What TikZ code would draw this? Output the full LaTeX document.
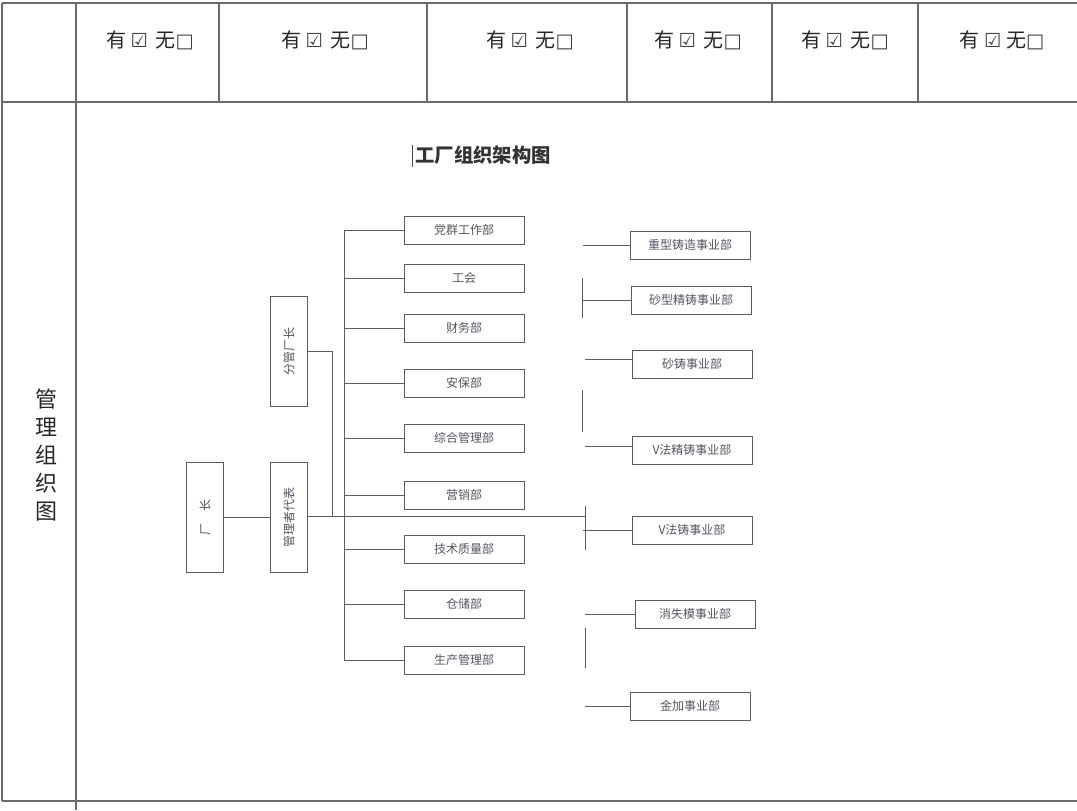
\documentclass[tikz,border=0pt]{standalone}
\usepackage{fontspec}
\setmainfont{Noto Sans CJK SC}
\newfontfamily\cjk{Noto Sans CJK SC}
\newfontfamily\sym{DejaVu Sans}
\definecolor{tline}{HTML}{6A6A72}
\definecolor{bline}{HTML}{5C5C66}
\definecolor{btext}{HTML}{555560}
\tikzset{
  grid/.style={draw=tline, line width=0.8pt},
  conn/.style={draw=bline, line width=0.6pt},
  hdr/.style={font=\cjk\fontsize{15}{18}\selectfont, text=black!85},
  mbox/.style={draw=bline, line width=0.6pt, minimum width=90pt, minimum height=21pt, inner sep=0pt, font=\cjk\fontsize{9}{10}\selectfont, text=btext},
  vbox/.style={draw=bline, line width=0.6pt, minimum width=27.5pt, minimum height=82.5pt, inner sep=0pt, font=\cjk\fontsize{9}{10}\selectfont, text=btext},
}
\newcommand{\symbox}[1]{{\sym\fontsize{14.5}{16}\selectfont\color{black!75}#1}}
\newcommand{\chk}{有 \symbox{☑}\, 无\symbox{□}}
\begin{document}
\begin{tikzpicture}[x=0.75pt,y=-0.75pt]
\useasboundingbox (0,0) rectangle (1077,810);
% table
\draw[grid] (2,3) -- (1077,3);
\draw[grid] (2,102) -- (1077,102);
\draw[grid] (2,801) -- (1077,801);
\draw[grid] (2,3) -- (2,801);
\draw[grid] (76,3) -- (76,810);
\foreach \x in {219,427,627,772,918} \draw[grid] (\x,3) -- (\x,102);
% header cells
\node[hdr] (h1) at (150,40) {\chk};
\node[hdr] (h2) at (325,40) {\chk};
\node[hdr] (h3) at (530,40) {\chk};
\node[hdr] (h4) at (698,40) {\chk};
\node[hdr] (h5) at (845,40) {\chk};
\node[hdr] (h6) at (1002,40) {有 \symbox{☑} 无\symbox{□}};
% left label
\node[font=\cjk\fontsize{16.5}{21}\selectfont, text=black!85, align=center] (lbl) at (46,455) {管\\理\\组\\织\\图};
% title
\node[font=\cjk\bfseries\fontsize{14.5}{17}\selectfont, text=black!80, anchor=west, inner sep=1pt] (title) at (414,155) {工厂组织架构图};
\draw[draw=black!70, line width=0.6pt] (title.north west) ++(-2,1) coordinate (cur1) -- (cur1 |- 0,167) coordinate (cur2);
% left boxes
\node[vbox] (cz) at (205,517) {\rotatebox{90}{厂\quad 长}};
\node[vbox] (gl) at (289,517) {\rotatebox{90}{管理者代表}};
\node[vbox] (fg) at (289,351) {\rotatebox{90}{分管厂长}};
% middle boxes
\node[mbox] (m1) at (464,230) {党群工作部};
\node[mbox] (m2) at (464,278) {工会};
\node[mbox] (m3) at (464,328) {财务部};
\node[mbox] (m4) at (464,383) {安保部};
\node[mbox] (m5) at (464,438) {综合管理部};
\node[mbox] (m6) at (464,495) {营销部};
\node[mbox] (m7) at (464,549) {技术质量部};
\node[mbox] (m8) at (464,604) {仓储部};
\node[mbox] (m9) at (464,660) {生产管理部};
% right boxes
\node[mbox] (r1) at (690,245) {重型铸造事业部};
\node[mbox] (r2) at (691,300) {砂型精铸事业部};
\node[mbox] (r3) at (692,364) {砂铸事业部};
\node[mbox] (r4) at (692,450) {V法精铸事业部};
\node[mbox] (r5) at (692,530) {V法铸事业部};
\node[mbox] (r6) at (695,614) {消失模事业部};
\node[mbox] (r7) at (690,706) {金加事业部};
% coordinates
\coordinate (bt) at (344,230);
\coordinate (bb) at (344,660);
\coordinate (jf) at (332,516);
\coordinate (je) at (585,516);
% connectors
\draw[conn] (cz.east) -- (gl.west);
\draw[conn] (gl.east |- jf) -- (je);
\draw[conn] (fg.east) -| (jf);
\draw[conn] (bt) -- (bb);
\foreach \m in {m1,m2,m3,m4,m5,m6,m7,m8,m9}
  \draw[conn] (\m.west -| bt) -- (\m.west);
% right side connectors
\coordinate (s1) at (583,245);
\coordinate (s2) at (583,300);
\coordinate (s3) at (585,359);
\coordinate (s4) at (585,446);
\coordinate (s5) at (583,530);
\coordinate (s6) at (585,614);
\coordinate (s7) at (585,706);
\draw[conn] (s1) -- (r1.west |- s1);
\draw[conn] (s2) -- (r2.west |- s2);
\draw[conn] (s3) -- (r3.west |- s3);
\draw[conn] (s4) -- (r4.west |- s4);
\draw[conn] (s5) -- (r5.west |- s5);
\draw[conn] (s6) -- (r6.west |- s6);
\draw[conn] (s7) -- (r7.west |- s7);
\coordinate (v1a) at (582,278); \coordinate (v1b) at (582,318);
\coordinate (v2a) at (582,390); \coordinate (v2b) at (582,432);
\coordinate (v3a) at (585,506); \coordinate (v3b) at (585,550);
\coordinate (v4a) at (585,628); \coordinate (v4b) at (585,668);
\draw[conn] (v1a) -- (v1b);
\draw[conn] (v2a) -- (v2b);
\draw[conn] (v3a) -- (v3b);
\draw[conn] (v4a) -- (v4b);
\end{tikzpicture}
\end{document}
